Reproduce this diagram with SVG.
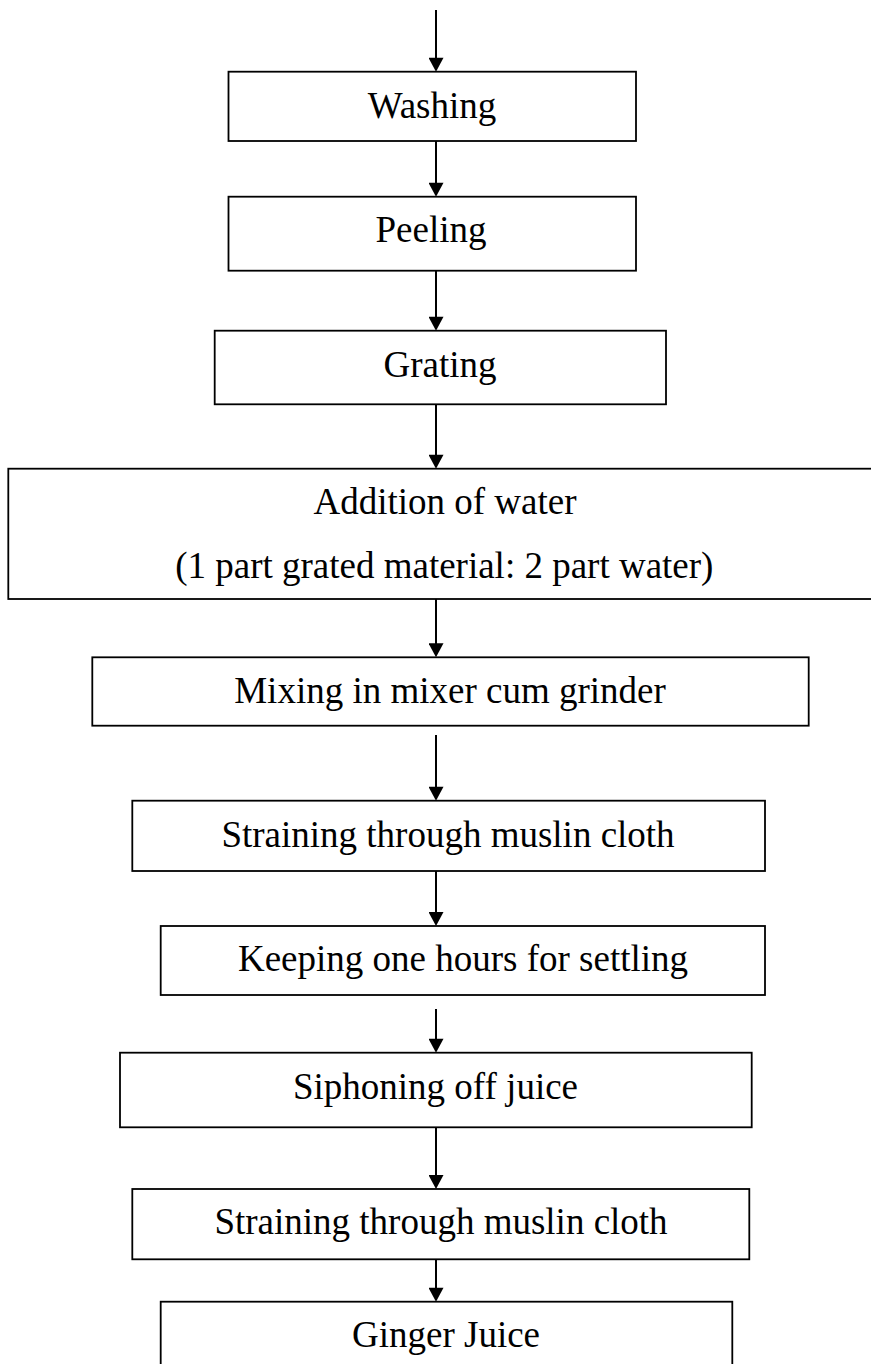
<svg xmlns="http://www.w3.org/2000/svg" width="871" height="1364" viewBox="0 0 871 1364">
<defs>
<marker id="ah" markerUnits="userSpaceOnUse" markerWidth="15" markerHeight="15" viewBox="0 0 14 15" refX="10" refY="7.5" orient="auto">
<path d="M0,0 L14,7.5 L0,15 z" fill="#000"/>
</marker>
<style>
.box{fill:#fff;stroke:#000;stroke-width:1.8}
.lbl{font-family:"Liberation Serif","Times New Roman",serif;font-size:37px;fill:#000;text-anchor:middle}
.arr{stroke:#000;stroke-width:2;fill:none;marker-end:url(#ah)}
</style>
</defs>
<rect x="0" y="0" width="871" height="1364" fill="#fff"/>
<g id="connectors">
<line class="arr" x1="436" y1="10" x2="436" y2="67.7"/>
<line class="arr" x1="436" y1="141" x2="436" y2="192.7"/>
<line class="arr" x1="436" y1="270.7" x2="436" y2="326.7"/>
<line class="arr" x1="436" y1="404.3" x2="436" y2="464.7"/>
<line class="arr" x1="436" y1="599" x2="436" y2="653.3"/>
<line class="arr" x1="436" y1="735" x2="436" y2="796.7"/>
<line class="arr" x1="436" y1="871" x2="436" y2="922"/>
<line class="arr" x1="436" y1="1009" x2="436" y2="1048.7"/>
<line class="arr" x1="436" y1="1127.3" x2="436" y2="1185"/>
<line class="arr" x1="436" y1="1259.3" x2="436" y2="1297.7"/>
</g>
<g id="washing">
<rect class="box" x="228.5" y="71.7" width="407.5" height="69.3"/>
<text class="lbl" x="432" y="118">Washing</text>
</g>
<g id="peeling">
<rect class="box" x="228.5" y="196.7" width="407.5" height="74"/>
<text class="lbl" x="431" y="242">Peeling</text>
</g>
<g id="grating">
<rect class="box" x="214.7" y="330.7" width="451.3" height="73.6"/>
<text class="lbl" x="440" y="377">Grating</text>
</g>
<g id="addition">
<rect class="box" x="8.3" y="468.7" width="870" height="130.3"/>
<text class="lbl" x="445" y="514">Addition of water</text>
<text class="lbl" x="444.3" y="578">(1 part grated material: 2 part water)</text>
</g>
<g id="mixing">
<rect class="box" x="92.3" y="657.3" width="716.4" height="68.4"/>
<text class="lbl" x="450" y="703">Mixing in mixer cum grinder</text>
</g>
<g id="straining1">
<rect class="box" x="132.3" y="800.7" width="632.7" height="70.3"/>
<text class="lbl" x="448" y="847">Straining through muslin cloth</text>
</g>
<g id="keeping">
<rect class="box" x="160.7" y="926" width="604.3" height="69"/>
<text class="lbl" x="463" y="971">Keeping one hours for settling</text>
</g>
<g id="siphoning">
<rect class="box" x="120" y="1052.7" width="631.7" height="74.6"/>
<text class="lbl" x="435.5" y="1099">Siphoning off juice</text>
</g>
<g id="straining2">
<rect class="box" x="132.3" y="1189" width="617" height="70.3"/>
<text class="lbl" x="441" y="1234">Straining through muslin cloth</text>
</g>
<g id="ginger">
<rect class="box" x="160.7" y="1301.7" width="571.6" height="80"/>
<text class="lbl" x="446" y="1347">Ginger Juice</text>
</g>
</svg>
